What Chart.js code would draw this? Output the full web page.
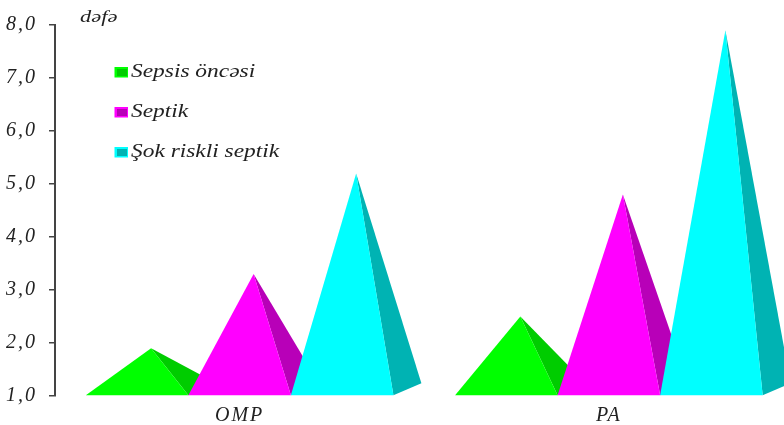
<!DOCTYPE html>
<html>
<head>
<meta charset="utf-8">
<title>Chart</title>
<script src="https://cdn.jsdelivr.net/npm/chart.js@4"></script>
<style>
  html, body { margin: 0; padding: 0; background: #fff; overflow: hidden; }
  #wrap { width: 784px; height: 425px; overflow: hidden; }
  canvas { display: block; filter: blur(0.45px); }
</style>
</head>
<body>
<div id="wrap"><canvas id="chart" width="800" height="425"></canvas></div>
<script>
const categories = ["OMP", "PA"];
const sepsisOncesi = [1.9, 2.5];
const septik = [3.3, 4.8];
const sokRiskli = [5.2, 7.9];
const seriesNames = ["Sepsis öncəsi", "Septik", "Şok riskli septik"];
const frontColors = ["#00ff00", "#ff00ff", "#00ffff"];
const sideColors = ["#00cc00", "#b800b8", "#00b3b3"];
const axisTitle = "dəfə";
const serif = '"Liberation Serif", "Times New Roman", serif';

// bar element drawn as a pyramid, the side face goes back to the right
class PyramidElement extends Chart.BarElement {
  draw(ctx) {
    const { x, y, base, width } = this.getProps(["x", "y", "base", "width"]);
    const depthX = width * 0.273;
    const depthY = width * 0.117;
    const left = x - width / 2;
    const right = x + width / 2;
    const apex = x + depthX / 2;

    ctx.save();
    ctx.fillStyle = this.options.borderColor;
    ctx.beginPath();
    ctx.moveTo(apex, y);
    ctx.lineTo(right, base);
    ctx.lineTo(right + depthX, base - depthY);
    ctx.closePath();
    ctx.fill();

    ctx.fillStyle = this.options.backgroundColor;
    ctx.beginPath();
    ctx.moveTo(apex, y);
    ctx.lineTo(left, base);
    ctx.lineTo(right, base);
    ctx.closePath();
    ctx.fill();
    ctx.restore();
  }
}
PyramidElement.id = "pyramidBar";
PyramidElement.defaults = Chart.BarElement.defaults;

class PyramidController extends Chart.BarController {}
PyramidController.id = "pyramid";
PyramidController.defaults = Object.assign({}, Chart.BarController.defaults, {
  dataElementType: "pyramidBar",
});
PyramidController.overrides = Chart.BarController.overrides;

Chart.register(PyramidController, PyramidElement);

// the original text is stretched sideways
function wideText(ctx, text, x, y, stretch) {
  ctx.save();
  ctx.translate(x, y);
  ctx.scale(stretch, 1);
  ctx.fillText(text, 0, 0);
  ctx.restore();
}

const notes = {
  id: "notes",
  beforeDraw(chart) {
    chart.ctx.letterSpacing = "2px";
  },
  // chart.js paints the last dataset first, here the right pyramid must overlap the left one
  beforeDatasetDraw() {
    return false;
  },
  afterDatasetsDraw(chart) {
    chart.data.datasets.forEach((ds, i) => chart.getDatasetMeta(i).controller.draw());
  },
  afterDraw(chart) {
    const ctx = chart.ctx;
    ctx.save();
    ctx.letterSpacing = "0px";
    ctx.textBaseline = "middle";
    ctx.textAlign = "left";
    ctx.fillStyle = "#222";
    ctx.font = "italic 17px " + serif;
    wideText(ctx, axisTitle, 80, 18, 1.32);

    const rows = [72, 112, 152];
    chart.data.datasets.forEach((ds, i) => {
      const y = rows[i];
      ctx.fillStyle = ds.backgroundColor;
      ctx.fillRect(114.5, y - 5, 13.5, 10.5);
      ctx.fillStyle = ds.borderColor;
      ctx.fillRect(117, y - 3, 10, 7);
      ctx.fillStyle = "#222";
      ctx.font = "italic 18px " + serif;
      wideText(ctx, ds.label, 131, y, 1.3);
    });
    ctx.restore();
  },
};

const datasets = [sepsisOncesi, septik, sokRiskli].map((values, i) => ({
  label: seriesNames[i],
  data: values,
  backgroundColor: frontColors[i],
  borderColor: sideColors[i],
  base: 1,
  categoryPercentage: 0.833,
  barPercentage: 1,
  clip: false,
}));

new Chart(document.getElementById("chart"), {
  type: "pyramid",
  data: { labels: categories, datasets: datasets },
  plugins: [notes],
  options: {
    responsive: false,
    animation: false,
    layout: { padding: { top: 25, right: 6.5, left: 0, bottom: 0 } },
    plugins: { legend: { display: false }, tooltip: { enabled: false } },
    scales: {
      x: {
        type: "category",
        grid: { display: false },
        border: { display: false },
        ticks: {
          color: "#222",
          padding: 0,
          maxRotation: 0,
          font: { family: serif, style: "italic", size: 20 },
        },
        afterFit(scale) {
          scale.height = 29;
        },
      },
      y: {
        type: "linear",
        min: 1,
        max: 8,
        grid: {
          drawOnChartArea: false,
          color: "#444",
          lineWidth: 1.5,
          tickLength: 6,
        },
        border: { color: "#444", width: 2 },
        ticks: {
          stepSize: 1,
          color: "#222",
          padding: 12,
          font: { family: serif, style: "italic", size: 20 },
          callback: (v) => v.toFixed(1).replace(".", ","),
        },
        afterFit(scale) {
          scale.width = 55;
        },
      },
    },
  },
});
</script>
</body>
</html>
